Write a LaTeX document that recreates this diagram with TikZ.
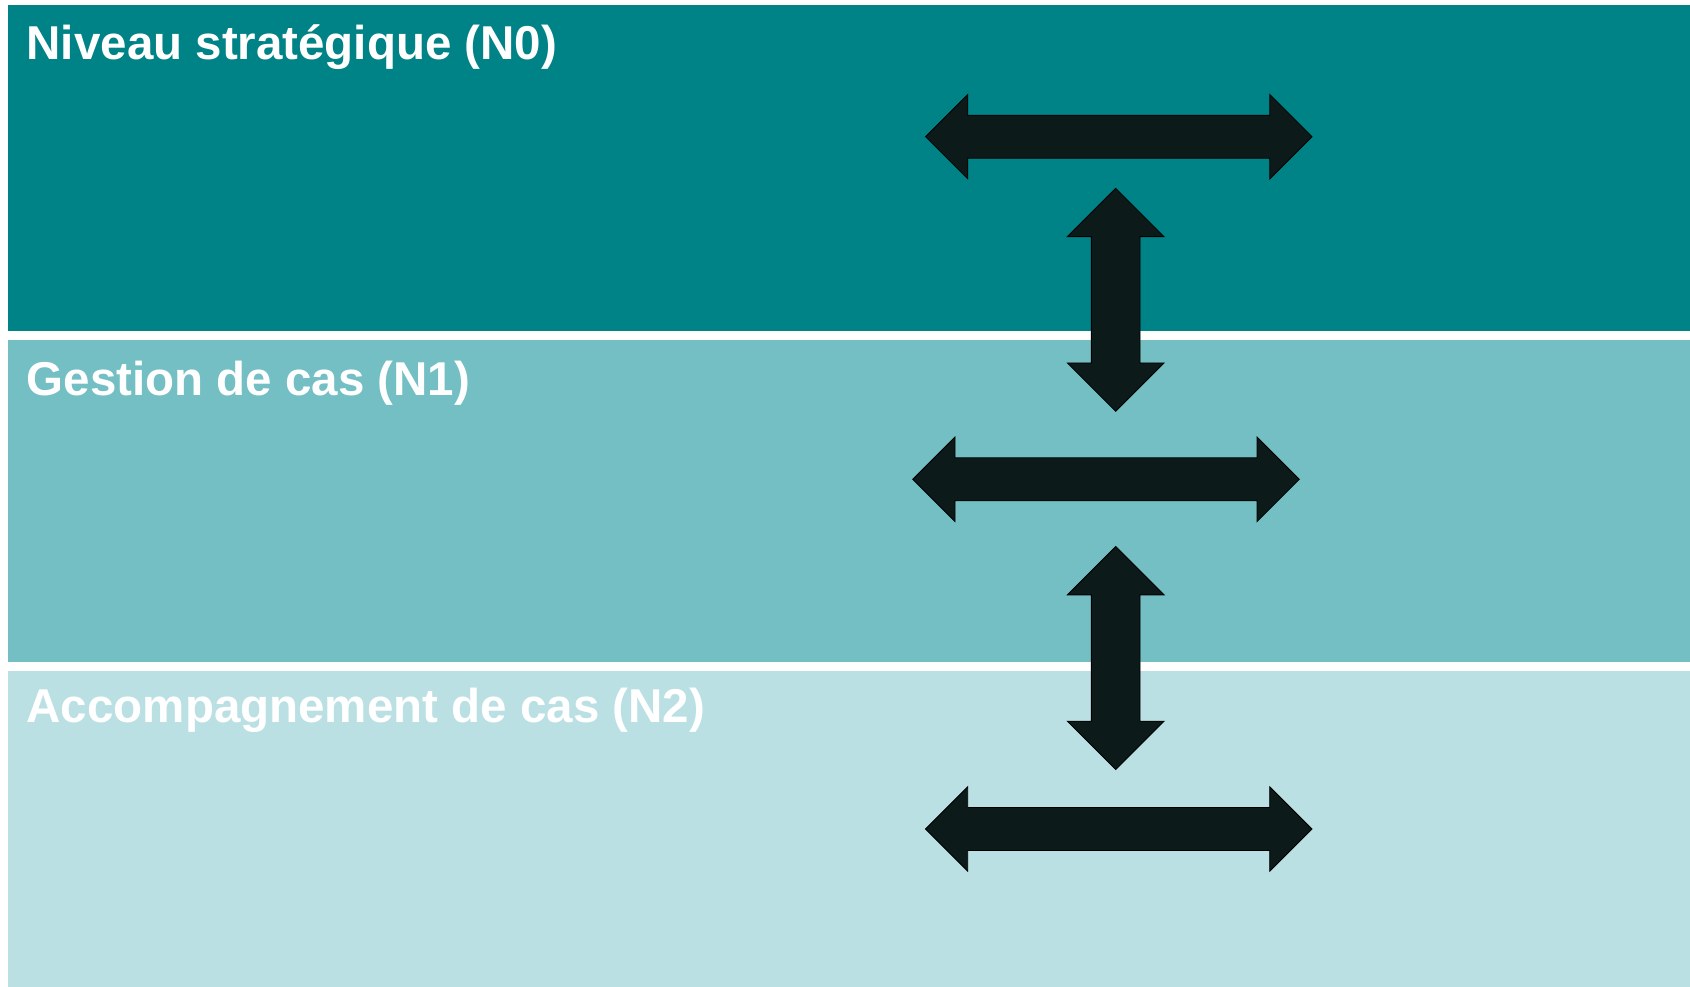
\documentclass[tikz,border=0pt]{standalone}
\usepackage{fontspec}
\setmainfont{Liberation Sans}
\usetikzlibrary{positioning}

\definecolor{levelzero}{RGB}{0,131,134}
\definecolor{levelone}{RGB}{115,191,196}
\definecolor{leveltwo}{RGB}{186,224,227}
\definecolor{arrowfill}{RGB}{12,26,26}

\begin{document}
\begin{tikzpicture}[%
    x=1pt, y=-1pt,
    band/.style={
        draw=none,
        inner sep=0pt,
        anchor=north west,
        minimum width=1682pt,
        minimum height=#1
        },
    levellabel/.style={
        anchor=base west,
        inner sep=0pt,
        text=white,
        font=\fontsize{47.5}{57}\selectfont\bfseries
        },
    flow/.style={
        draw=black,
        line width=0.8pt,
        line join=miter,
        fill=arrowfill
        },
    % length, half head, half shaft
    twoway/.pic={
        \coordinate (-c) at (0,0);
        \path[flow] (-193.25,0) -- (-151,-42.25) -- (-151,-21.5) -- (151,-21.5)
            -- (151,-42.25) -- (193.25,0) -- (151,42.25) -- (151,21.5)
            -- (-151,21.5) -- (-151,42.25) -- cycle;
        },
    updown/.pic={
        \coordinate (-c) at (0,0);
        \path[flow] (0,-111.5) -- (48.35,-63.15) -- (24.35,-63.15) -- (24.35,63.15)
            -- (48.35,63.15) -- (0,111.5) -- (-48.35,63.15) -- (-24.35,63.15)
            -- (-24.35,-63.15) -- (-48.35,-63.15) -- cycle;
        }
]

\fill[white] (0,0) rectangle (1690,987);
\useasboundingbox (0,0) rectangle (1690,987);

% the three levels
\node[band=326pt, fill=levelzero] (n0) at (8,5) {};
\node[band=322pt, fill=levelone, below=8pt of n0.south west, anchor=north west] (n1) {};
\node[band=317pt, fill=leveltwo, below=9pt of n1.south west, anchor=north west] (n2) {};

\node[levellabel] (t0) at ([xshift=18.5pt, yshift=-55pt]n0.north west) {Niveau stratégique (N0)};
\node[levellabel] (t1) at ([xshift=18.5pt, yshift=-56pt]n1.north west) {Gestion de cas (N1)};
\node[levellabel] (t2) at ([xshift=18.5pt, yshift=-52pt]n2.north west) {Accompagnement de cas (N2)};

% exchanges within and between levels
\pic (h0) at (1118.8,136.7) {twoway};
\pic (v01) at (1115.7,299.8) {updown};
\pic (h1) at (1106,479.3) {twoway};
\pic (v12) at (1115.7,658) {updown};
\pic (h2) at (1118.7,829) {twoway};

\end{tikzpicture}
\end{document}
